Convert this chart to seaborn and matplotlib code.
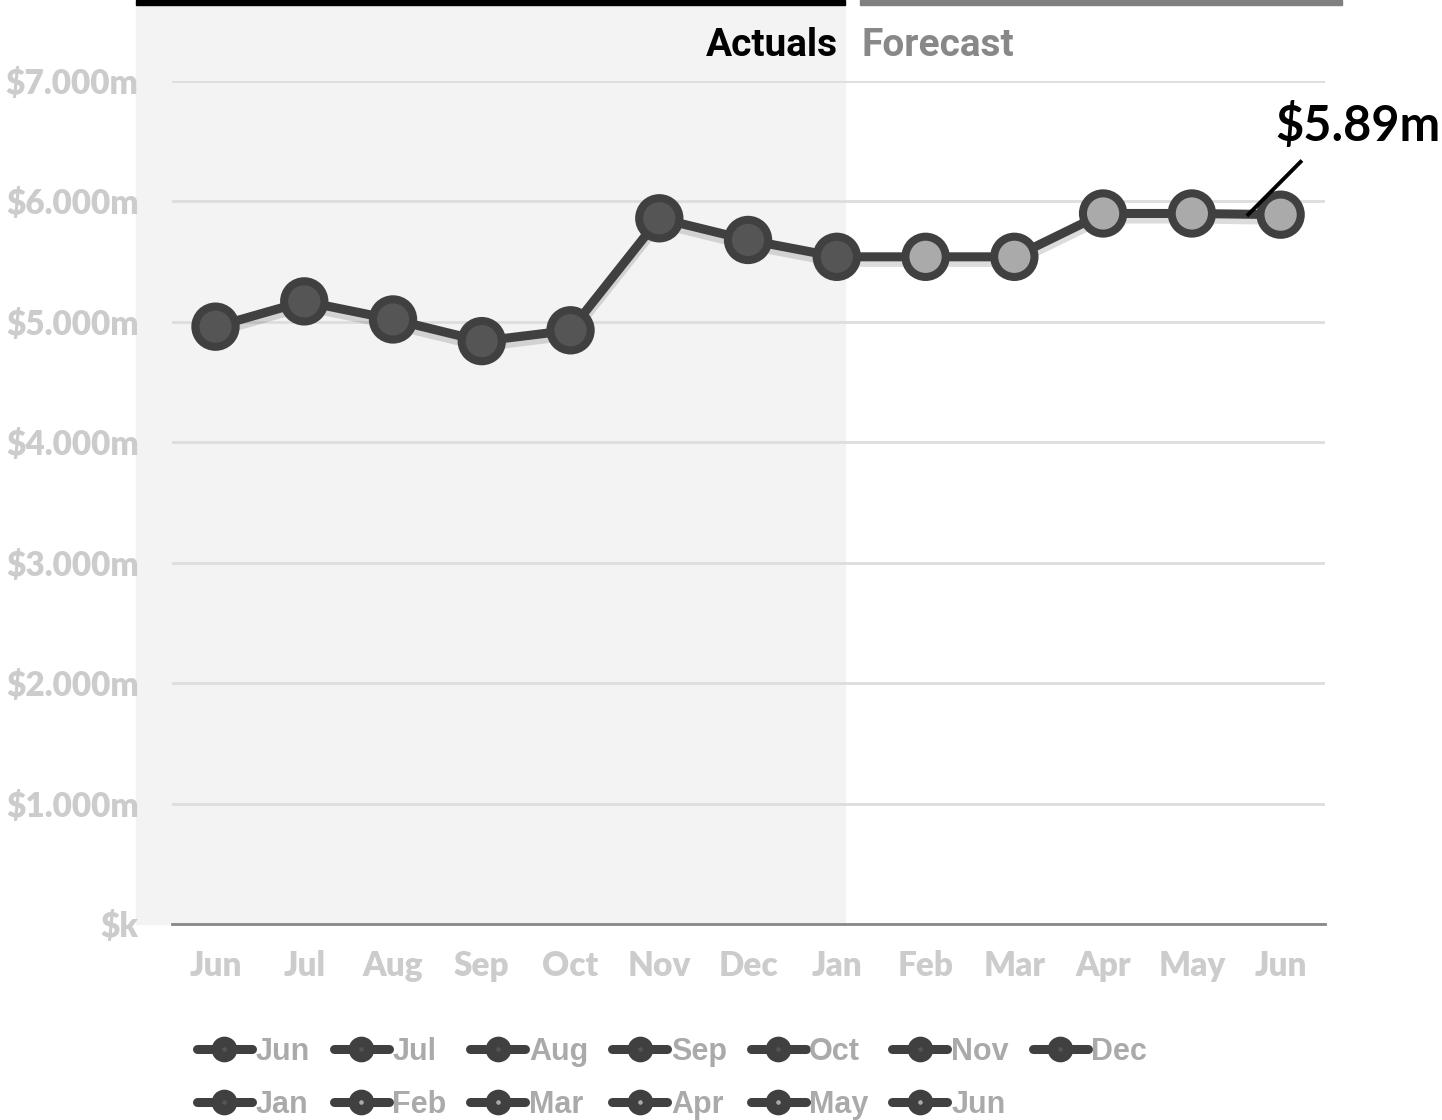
import matplotlib
matplotlib.use("Agg")
import matplotlib.pyplot as plt
import matplotlib.patheffects as pe
from matplotlib.patches import Rectangle
from matplotlib.lines import Line2D
from matplotlib.font_manager import FontProperties
import seaborn as sns
import pandas as pd

# ---- data ----
months = ["Jun", "Jul", "Aug", "Sep", "Oct", "Nov", "Dec",
          "Jan", "Feb", "Mar", "Apr", "May", "Jun"]
values = [4.96, 5.17, 5.02, 4.84, 4.93, 5.86, 5.68,
          5.54, 5.54, 5.54, 5.90, 5.90, 5.89]
period = ["Actuals"] * 8 + ["Forecast"] * 5
y_ticks = [0, 1, 2, 3, 4, 5, 6, 7]
y_labels = ["$k", "$1.000m", "$2.000m", "$3.000m", "$4.000m",
            "$5.000m", "$6.000m", "$7.000m"]
last_label = "$5.89m"

df = pd.DataFrame({"idx": range(len(months)), "month": months,
                   "value": values, "period": period})

sns.set_theme(style="white")
plt.rcParams["font.family"] = ["Lato", "DejaVu Sans"]

W, H = 1442, 1120
fig = plt.figure(figsize=(W / 100, H / 100), dpi=100)
ax = fig.add_axes([172 / W, 1 - 924 / H, (1325 - 172) / W, (924 - 81) / H])
ax.set_facecolor("none")

# background shading for actuals + top bars
fig.patches.append(Rectangle((136 / W, 1 - 924 / H), (845 - 136) / W, 924 / H,
                             transform=fig.transFigure, color="#f3f3f3", zorder=-5))
fig.patches.append(Rectangle((136 / W, 1 - 5 / H), (845 - 136) / W, 5 / H,
                             transform=fig.transFigure, color="#000000", zorder=-4))
fig.patches.append(Rectangle((860 / W, 1 - 5 / H), (1342 - 860) / W, 5 / H,
                             transform=fig.transFigure, color="#808080", zorder=-4))

fig.text(838 / W, 1 - 45 / H, "Actuals", ha="right", va="center",
         fontsize=28, fontweight="bold", color="#000000", family=["Roboto", "DejaVu Sans"])
fig.text(862 / W, 1 - 45 / H, "Forecast", ha="left", va="center",
         fontsize=28, fontweight="bold", color="#888888", family=["Roboto", "DejaVu Sans"])

line_color = "#404040"
sns.lineplot(data=df, x="idx", y="value", ax=ax, color=line_color, lw=6.5,
             zorder=3, legend=False,
             path_effects=[pe.SimpleLineShadow(offset=(0, -4), shadow_color="k", alpha=0.15),
                           pe.Normal()])
sns.scatterplot(data=df, x="idx", y="value", hue="period", ax=ax,
                palette={"Actuals": "#555555", "Forecast": "#aaaaaa"},
                s=29 ** 2, linewidth=5.8, edgecolor=line_color, zorder=4,
                legend=False)

# annotation of last value
n = len(values)
ax.plot([n - 1 - 0.38, n - 1 + 0.24], [values[-1] - 0.01, values[-1] + 0.45],
        color="black", lw=2.8, zorder=6, clip_on=False, solid_capstyle="butt")
ax.text(n - 1 + 0.87, values[-1] + 0.74, last_label, ha="center", va="center",
        fontsize=35, fontweight="bold", color="black", zorder=6)

ax.set_xlim(-0.49, n - 1 + 0.5)
ax.set_ylim(0, 7)
ax.set_xticks(range(n))
ax.set_xticklabels(months)
ax.set_yticks(y_ticks)
ax.set_yticklabels(y_labels)
ax.set_xlabel("")
ax.set_ylabel("")
ax.tick_params(axis="both", length=0, labelcolor="#cccccc")
ax.tick_params(axis="y", pad=24, labelsize=24)
ax.tick_params(axis="x", pad=19, labelsize=24)
for lab in ax.get_xticklabels() + ax.get_yticklabels():
    lab.set_fontweight("heavy")

ax.yaxis.grid(True, color="#dddddd", lw=2)
ax.xaxis.grid(False)
ax.set_axisbelow(True)
for s in ["top", "right", "left"]:
    ax.spines[s].set_visible(False)
ax.spines["bottom"].set_color("#888888")
ax.spines["bottom"].set_linewidth(2)
ax.spines["bottom"].set_zorder(2.5)

# legend (row-major order for 7 columns)
handles = []
for m, p in zip(months, period):
    handles.append(Line2D([], [], color=line_color, lw=6.5, marker="o", ms=11, mew=7.5,
                          mec=line_color, solid_capstyle="round",
                          mfc="#555555" if p == "Actuals" else "#aaaaaa"))
ncol = 7
order = []
for c in range(ncol):
    for r in range(2):
        i = r * ncol + c
        if i < len(months):
            order.append(i)
leg = fig.legend([handles[i] for i in order], [months[i] for i in order],
                 loc="center", bbox_to_anchor=(0.466, 0.037),
                 ncol=ncol, frameon=False,
                 prop=FontProperties(family=["Liberation Sans", "DejaVu Sans"],
                                     weight="bold", size=22),
                 labelcolor="#aaaaaa", handlelength=1.8, handletextpad=0.12,
                 columnspacing=0.78, labelspacing=0.75)

fig.savefig("out.png", dpi=100)
